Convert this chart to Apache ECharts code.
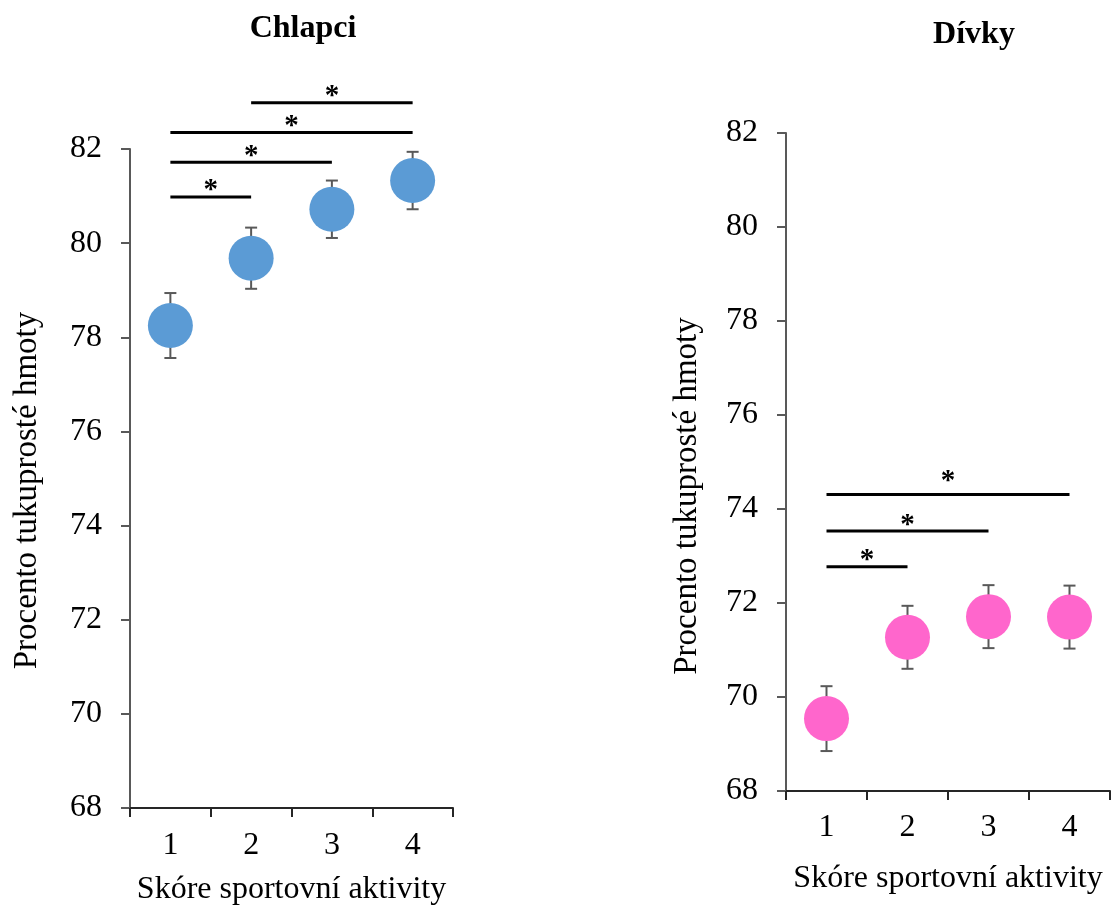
<!DOCTYPE html>
<html>
<head>
<meta charset="utf-8">
<script src="https://cdn.jsdelivr.net/npm/echarts@6/dist/echarts.min.js"></script>
<style>
  html, body { margin: 0; padding: 0; background: #fff; }
  #chart { width: 1111px; height: 906px; }
</style>
</head>
<body>
<div id="chart"></div>
<script>
// Sport activity score categories
const categories = ['1', '2', '3', '4'];

// Boys: mean percentage of fat-free mass and its error
const boysMean = [78.25, 79.68, 80.72, 81.33];
const boysErr = [0.69, 0.65, 0.61, 0.61];
// Significant pairwise differences: [from category, to category, bar level]
const boysSig = [[0, 1, 80.98], [0, 2, 81.72], [0, 3, 82.35], [1, 3, 82.98]];

// Girls
const girlsMean = [69.54, 71.27, 71.71, 71.70];
const girlsErr = [0.69, 0.67, 0.67, 0.67];
const girlsSig = [[0, 1, 72.77], [0, 2, 73.53], [0, 3, 74.31]];

// Value axis range
const yMin = 68, yMax = 82, yStep = 2;

const FONT = "'Times New Roman', 'Liberation Serif', serif";
const AXIS_GRAY = '#595959';

function errorBarSeries(idx, mean, err) {
  return {
    type: 'custom',
    xAxisIndex: idx, yAxisIndex: idx,
    z: 1,
    silent: true,
    data: mean.map((m, i) => [i, m - err[i], m + err[i]]),
    encode: { x: 0, y: [1, 2] },
    renderItem(params, api) {
      const lo = api.coord([api.value(0), api.value(1)]);
      const hi = api.coord([api.value(0), api.value(2)]);
      const cap = 6;
      const st = { stroke: AXIS_GRAY, lineWidth: 2 };
      return {
        type: 'group',
        children: [
          { type: 'line', shape: { x1: lo[0], y1: lo[1], x2: hi[0], y2: hi[1] }, style: st },
          { type: 'line', shape: { x1: lo[0] - cap, y1: lo[1], x2: lo[0] + cap, y2: lo[1] }, style: st },
          { type: 'line', shape: { x1: hi[0] - cap, y1: hi[1], x2: hi[0] + cap, y2: hi[1] }, style: st }
        ]
      };
    }
  };
}

function sigSeries(idx, pairs, lifts) {
  return {
    type: 'custom',
    xAxisIndex: idx, yAxisIndex: idx,
    z: 3,
    silent: true,
    clip: false,
    data: pairs,
    encode: { x: 0, y: 2 },
    renderItem(params, api) {
      const a = api.coord([api.value(0), api.value(2)]);
      const b = api.coord([api.value(1), api.value(2)]);
      const lift = lifts[params.dataIndex];
      return {
        type: 'group',
        children: [
          { type: 'line', shape: { x1: a[0], y1: a[1], x2: b[0], y2: b[1] },
            style: { stroke: '#000', lineWidth: 3 } },
          { type: 'text', x: (a[0] + b[0]) / 2, y: a[1] - lift,
            style: { text: '*', font: 'bold 29px ' + FONT, fill: '#000',
                     textAlign: 'center', textVerticalAlign: 'middle' } }
        ]
      };
    }
  };
}

function dotSeries(idx, mean, color) {
  return {
    type: 'scatter',
    xAxisIndex: idx, yAxisIndex: idx,
    z: 2,
    symbol: 'circle',
    symbolSize: 45,
    itemStyle: { color: color, opacity: 1 },
    data: mean.map((m, i) => [i, m])
  };
}

function xAxis(idx, nameGap, labelMargin) {
  return {
    type: 'category',
    gridIndex: idx,
    data: categories,
    boundaryGap: true,
    name: 'Skóre sportovní aktivity',
    nameLocation: 'middle',
    nameGap: nameGap,
    nameTextStyle: { fontFamily: FONT, fontSize: 32, color: '#000' },
    axisLine: { show: true, lineStyle: { color: '#262626', width: 2 } },
    axisTick: { show: true, alignWithLabel: false, length: 9, lineStyle: { color: '#262626', width: 2 } },
    axisLabel: { fontFamily: FONT, fontSize: 32, color: '#000', margin: labelMargin },
    splitLine: { show: false }
  };
}

// shiftDown moves the rotated axis title down along the axis
function yAxis(idx, nameGap, shiftDown) {
  return {
    type: 'value',
    gridIndex: idx,
    min: yMin, max: yMax, interval: yStep,
    name: 'Procento tukuprosté hmoty',
    nameLocation: 'middle',
    nameGap: nameGap,
    nameRotate: 90,
    nameTextStyle: { fontFamily: FONT, fontSize: 33, color: '#000',
                     padding: [0, shiftDown * 2, 0, 0] },
    axisLine: { show: true, lineStyle: { color: AXIS_GRAY, width: 2 } },
    axisTick: { show: true, length: 9, lineStyle: { color: AXIS_GRAY, width: 2 } },
    axisLabel: { fontFamily: FONT, fontSize: 32, color: '#000', margin: 28 },
    splitLine: { show: false }
  };
}

const chart = echarts.init(document.getElementById('chart'), null, { renderer: 'canvas' });

chart.setOption({
  backgroundColor: '#fff',
  animation: false,
  title: [
    { text: 'Chlapci', left: 298, top: 8, textAlign: 'center',
      textStyle: { fontFamily: FONT, fontSize: 32, fontWeight: 'bold', color: '#000' } },
    { text: 'Dívky', left: 969, top: 14, textAlign: 'center',
      textStyle: { fontFamily: FONT, fontSize: 32, fontWeight: 'bold', color: '#000' } }
  ],
  grid: [
    { left: 130, right: 658, top: 149, bottom: 98, containLabel: false, outerBoundsMode: 'none' },
    { left: 786, right: 1, top: 133, bottom: 115, containLabel: false, outerBoundsMode: 'none' }
  ],
  xAxis: [xAxis(0, 66, 22), xAxis(1, 72, 21)],
  yAxis: [yAxis(0, 86, 12), yAxis(1, 82, 34)],
  series: [
    errorBarSeries(0, boysMean, boysErr),
    dotSeries(0, boysMean, '#5B9BD5'),
    sigSeries(0, boysSig, [6, 6, 6, 6]),
    errorBarSeries(1, girlsMean, girlsErr),
    dotSeries(1, girlsMean, '#FF66CC'),
    sigSeries(1, girlsSig, [6, 6, 13])
  ]
});
</script>
</body>
</html>
